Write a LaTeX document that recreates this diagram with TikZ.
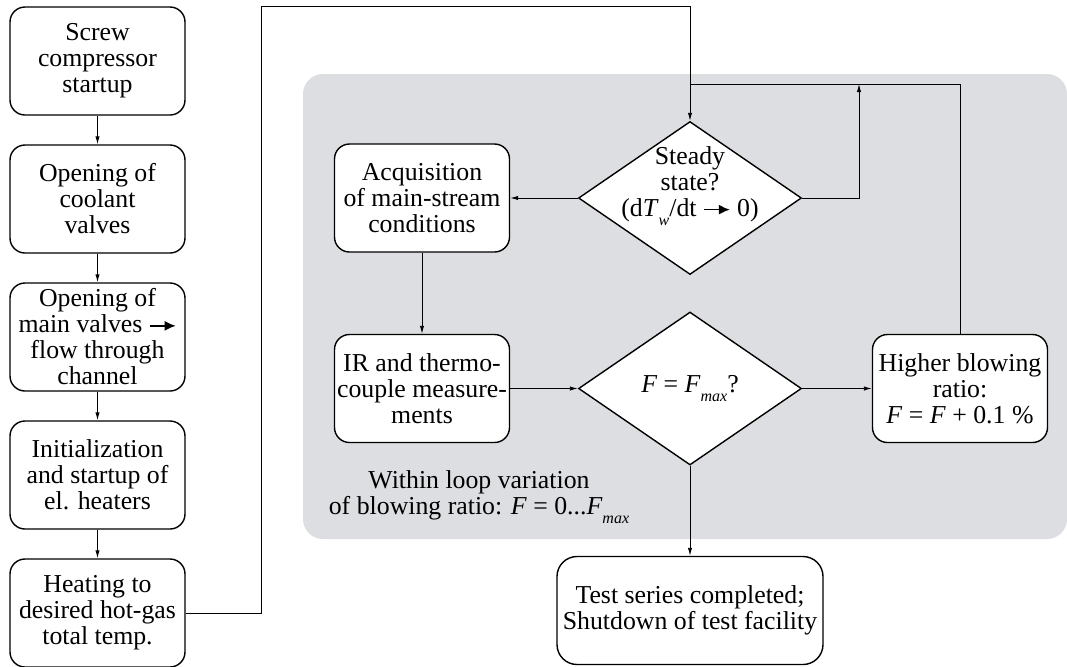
\documentclass[tikz,border=0pt]{standalone}
\usepackage{fontspec}
\setmainfont{Liberation Serif}
\usetikzlibrary{shapes.geometric,arrows.meta}
\definecolor{loopgray}{RGB}{221,222,225}
\newcommand{\fatarrow}{\tikz[baseline=-0.6ex]\draw[line width=0.8pt,-{Latex[length=5.5pt,width=5pt]}] (0pt,0pt) -- (13pt,0pt);}
\newcommand{\lowsub}[1]{\raisebox{-0.7ex}{\fontsize{8}{8}\selectfont\itshape #1}}
\tikzset{
  boxfont/.style={font=\fontsize{12.9}{13}\selectfont},
  stepbox/.style={draw, line width=0.7pt, fill=white, rounded corners=7.5pt,
    minimum width=87.5pt, minimum height=54pt, align=center, inner sep=1pt, boxfont},
  decision/.style={diamond, draw, line width=0.7pt, fill=white, aspect=1.46,
    minimum width=111.5pt, minimum height=76.5pt, inner sep=0pt, boxfont},
  flow/.style={line width=0.45pt, -{Latex[length=4pt,width=2.2pt]}}
}
\begin{document}
\begin{tikzpicture}[x=0.5pt, y=-0.5pt, node distance=69pt]
    \useasboundingbox (0,0) rectangle (1067,666);
    % loop region
    \fill[loopgray, rounded corners=10pt] (303,74) rectangle (1067,539);
    % startup sequence
    \node[stepbox] (1) at (97.5,61) {Screw\\compressor\\startup};
    \node[stepbox] (2) [below of=1] {Opening of\\coolant\\valves};
    \node[stepbox] (3) [below of=2] {Opening of\\main valves \fatarrow\\flow through\\channel};
    \node[stepbox] (4) [below of=3] {Initialization\\and startup of\\el. heaters};
    \node[stepbox] (5) [below of=4] {Heating to\\desired hot-gas\\total temp.};
    % measurement loop
    \node[decision, label={[align=center, boxfont, yshift=6pt]center:{Steady\\state?\\(d\textit{T}\lowsub{w}/dt \fatarrow\ 0)}}] (6) at (690,198) {};
    \node[stepbox] (7) [left of=6, node distance=134pt] {Acquisition\\of main-stream\\conditions};
    \node[stepbox] (8) [below of=7, node distance=95.25pt] {IR and thermo-\\couple measure-\\ments};
    \node[decision] (9) [right of=8, node distance=134pt] {\textit{F} = \textit{F}\lowsub{max}?};
    \node[stepbox] (10) [right of=9, node distance=135pt] {Higher blowing\\ratio:\\\textit{F} = \textit{F} + 0.1 \%};
    \node[stepbox, rounded corners=10pt, minimum width=133pt] (11) [below of=9, node distance=111pt] {Test series completed;\\Shutdown of test facility};
    \node[boxfont, align=center] (12) at (479,497) {Within loop variation\\of blowing ratio: \textit{F} = 0...\textit{F}\lowsub{max}};
    % connectors
    \foreach \a/\b in {1/2, 2/3, 3/4, 4/5}
      \draw[flow] (\a) -- (\b);
    \draw[flow] (5.east) -| (261,6) -| (6.north);
    \draw[flow] (6.west) -- (7.east);
    \draw[flow] (7.south) -- (8.north);
    \draw[flow] (8.east) -- (9.west);
    \draw[flow] (9.east) -- (10.west);
    \draw[flow] (9.south) -- (11.north);
    \draw[line width=0.45pt] (10.north) |- (690,84);
    \draw[flow] (6.east) -| (859,84);
\end{tikzpicture}
\end{document}
